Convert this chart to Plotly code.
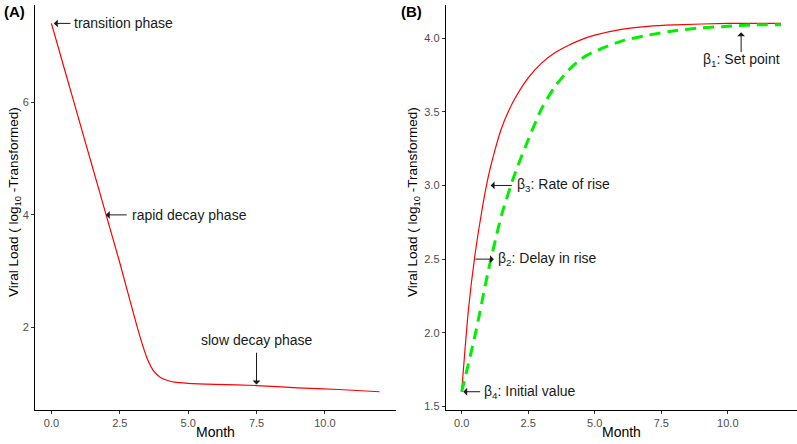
import plotly.graph_objects as go

# Panel A: viral decay
month_a = [0, 0.5, 1, 1.5, 2, 2.5, 3, 3.25, 3.5, 3.75, 4, 4.25, 4.5, 5, 6, 7.5, 9, 10.5, 12]
load_a = [7.4, 6.55, 5.7, 4.85, 4.0, 3.15, 2.25, 1.82, 1.45, 1.22, 1.11, 1.06, 1.03, 1.01, 0.99, 0.97, 0.93, 0.90, 0.86]

# Panel B: viral rise
month_b = [0, 0.25, 0.5, 0.75, 1.0, 1.25, 1.5, 1.75, 2.0, 2.5, 3.0, 3.5, 4.0, 4.5, 5, 6, 7, 8, 10, 12]
load_b_red = [1.6, 2.15, 2.53, 2.82, 3.06, 3.24, 3.39, 3.50, 3.59, 3.73, 3.83, 3.90, 3.95, 3.99, 4.02, 4.06, 4.08, 4.09, 4.1, 4.1]
month_g = [0, 0.5, 1.0, 1.5, 2.0, 2.5, 3.0, 3.5, 4.0, 4.5, 5, 6, 7, 8, 9, 10, 11, 12]
load_b_green = [1.6, 1.98, 2.42, 2.80, 3.08, 3.31, 3.52, 3.67, 3.78, 3.86, 3.91, 3.98, 4.02, 4.05, 4.07, 4.08, 4.09, 4.09]

xticks = [0, 2.5, 5, 7.5, 10]
xticklabels = ["0.0", "2.5", "5.0", "7.5", "10.0"]
yticks_a = [2, 4, 6]
yticks_b = [1.5, 2.0, 2.5, 3.0, 3.5, 4.0]

FONT = "Liberation Sans, Arial, sans-serif"
fig = go.Figure()
fig.add_trace(go.Scatter(x=month_a, y=load_a, mode="lines", line=dict(color="#FF0000", width=1.2, shape="spline", smoothing=0.6),
                         xaxis="x", yaxis="y", showlegend=False))
fig.add_trace(go.Scatter(x=month_b, y=load_b_red, mode="lines", line=dict(color="#FF0000", width=1.2, shape="spline", smoothing=0.6),
                         xaxis="x2", yaxis="y2", showlegend=False))
fig.add_trace(go.Scatter(x=month_g, y=load_b_green, mode="lines", line=dict(color="#00F000", width=3, dash="11px,7px", shape="spline", smoothing=0.6),
                         xaxis="x2", yaxis="y2", showlegend=False))

axis_common = dict(showline=True, linecolor="#000000", linewidth=1, ticks="outside", ticklen=3, tickcolor="#333333",
                   showgrid=False, zeroline=False, tickfont=dict(family=FONT, size=11, color="#4D4D4D"))
ydom = [1 - 412 / 444, 1 - 5 / 444]
fig.update_layout(
    width=797, height=444, margin=dict(l=0, r=0, t=0, b=0),
    plot_bgcolor="white", paper_bgcolor="white",
    font=dict(family=FONT, color="#1A1A1A"),
    xaxis=dict(domain=[35 / 797, 396 / 797], range=[-0.6, 12.6], tickvals=xticks, ticktext=xticklabels, anchor="y", **axis_common),
    yaxis=dict(domain=ydom, range=[0.533, 7.727], tickvals=yticks_a, anchor="x", **axis_common),
    xaxis2=dict(domain=[445.7 / 797, 1.0], range=[-0.6, 12.6], tickvals=xticks, ticktext=xticklabels, anchor="y2", **axis_common),
    yaxis2=dict(domain=ydom, range=[1.475, 4.225], tickvals=yticks_b, tickformat=".1f", anchor="x2", **axis_common),
)

ann = []
def arrow(xr, yr, x, y, ax, ay):
    ann.append(dict(xref=xr, yref=yr, axref=xr, ayref=yr, x=x, y=y, ax=ax, ay=ay, text="", showarrow=True,
                    arrowhead=1, arrowsize=1.3, arrowwidth=1, arrowcolor="#1A1A1A"))
def label(xr, yr, x, y, t, xanchor="left"):
    ann.append(dict(xref=xr, yref=yr, x=x, y=y, text=t, showarrow=False, xanchor=xanchor, yanchor="middle",
                    font=dict(family=FONT, size=14, color="#1A1A1A")))

# Panel A
arrow("x", "y", 0.09, 7.4, 0.75, 7.4); label("x", "y", 0.76, 7.4, "transition phase")
arrow("x", "y", 1.99, 4.0, 2.81, 4.0); label("x", "y", 2.86, 4.0, "rapid decay phase")
arrow("x", "y", 7.5, 0.99, 7.5, 1.58); label("x", "y", 7.5, 1.775, "slow decay phase", "center")
# Panel B
arrow("x2", "y2", 10.5, 4.04, 10.5, 3.895); label("x2", "y2", 10.5, 3.85, "β<sub>1</sub>: Set point", "center")
arrow("x2", "y2", 1.09, 3.0, 1.94, 3.0); label("x2", "y2", 2.0, 3.0, "β<sub>3</sub>: Rate of rise")
arrow("x2", "y2", 1.21, 2.5, 0.46, 2.5); label("x2", "y2", 1.28, 2.5, "β<sub>2</sub>: Delay in rise")
arrow("x2", "y2", 0.06, 1.6, 0.75, 1.6); label("x2", "y2", 0.77, 1.6, "β<sub>4</sub>: Initial value")

# Panel tags
ann.append(dict(xref="paper", yref="paper", x=2 / 797, y=1 - 12 / 444, text="<b>(A)</b>", showarrow=False,
                xanchor="left", yanchor="middle", font=dict(family=FONT, size=15, color="#000000")))
ann.append(dict(xref="paper", yref="paper", x=399 / 797, y=1 - 12 / 444, text="<b>(B)</b>", showarrow=False,
                xanchor="left", yanchor="middle", font=dict(family=FONT, size=15, color="#000000")))
# Axis titles
ytitle = "Viral Load ( log<sub>10</sub> -Transformed)"
for xp in (14, 413):
    ann.append(dict(xref="paper", yref="paper", x=xp / 797, y=1 - 203 / 444, text=ytitle, textangle=-90, showarrow=False,
                    xanchor="center", yanchor="middle", font=dict(family=FONT, size=13.5, color="#000000")))
for xp in (215, 621):
    ann.append(dict(xref="paper", yref="paper", x=xp / 797, y=1 - 434 / 444, text="Month", showarrow=False,
                    xanchor="center", yanchor="middle", font=dict(family=FONT, size=14, color="#000000")))

fig.update_layout(annotations=ann)
fig.write_html("out.html", config={"displayModeBar": False},
               post_script="document.body.style.margin='0';document.body.style.overflow='hidden';")
